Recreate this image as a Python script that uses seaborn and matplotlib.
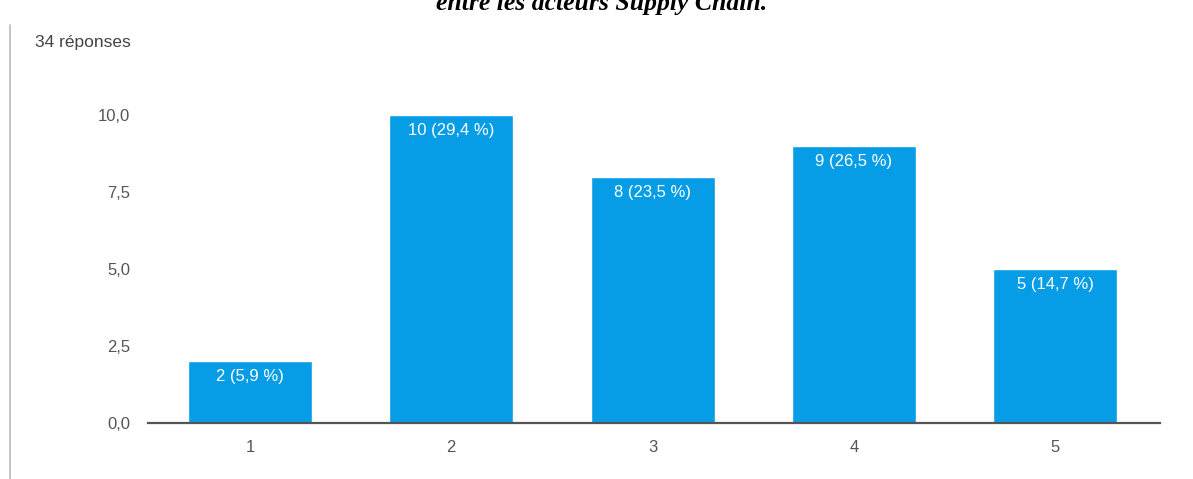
import matplotlib
matplotlib.use("Agg")
import matplotlib.pyplot as plt
import seaborn as sns
import pandas as pd
from matplotlib.lines import Line2D

categories = ["1", "2", "3", "4", "5"]
counts = [2, 10, 8, 9, 5]
percents = ["5,9", "29,4", "23,5", "26,5", "14,7"]
yticks = [0, 2.5, 5, 7.5, 10]
ytick_labels = ["0,0", "2,5", "5,0", "7,5", "10,0"]

sns.set_theme(style="white")
plt.rcParams['font.family'] = ['Liberation Sans', 'DejaVu Sans']

df = pd.DataFrame({"cat": categories, "n": counts})

W, H = 1193, 479
fig = plt.figure(figsize=(W / 100, H / 100), dpi=100)
ax = fig.add_axes([148 / W, (H - 423) / H, (1160 - 148) / W, (423 - 100) / H])

blue = "#069de6"
sns.barplot(data=df, x="cat", y="n", color=blue, saturation=1, width=0.615, ax=ax)

ax.set_xlim(-0.506, 4.52)
ax.set_ylim(0, 10.5)
ax.set_yticks(yticks)
ax.set_yticklabels(ytick_labels)
ax.set_xlabel("")
ax.set_ylabel("")
for s in ["top", "right", "left"]:
    ax.spines[s].set_visible(False)
ax.spines["bottom"].set_color("#555555")
ax.spines["bottom"].set_linewidth(1.6)
ax.tick_params(axis="both", length=0, colors="#555555", labelsize=12)
ax.tick_params(axis="y", pad=13)
ax.tick_params(axis="x", pad=12)

for i, (c, p) in enumerate(zip(counts, percents)):
    ax.text(i, c - 0.5, f"{c} ({p} %)", ha="center", va="center", color="white", fontsize=12)

fig.text(35 / W, 1 - 43 / H, "34 réponses", ha="left", va="center", color="#444444", fontsize=12.5)
fig.text(602 / W, 1 - 10 / H, "entre les acteurs Supply Chain.", ha="center", va="baseline",
         fontsize=18.5, fontweight="bold", fontstyle="italic", family=["Liberation Serif", "DejaVu Serif"], color="black")
fig.add_artist(Line2D([10 / W, 10 / W], [0, 1 - 25 / H], color="#bbbbbb", linewidth=1.2))

fig.savefig("out.png", dpi=100)
